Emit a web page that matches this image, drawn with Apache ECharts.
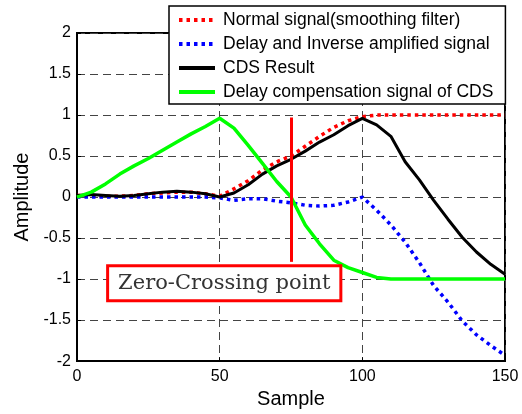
<!DOCTYPE html>
<html><head><meta charset="utf-8">
<script src="https://cdn.jsdelivr.net/npm/echarts@6/dist/echarts.min.js"></script>
<style>html,body{margin:0;padding:0;background:#fff}#c{width:522px;height:414px}</style>
</head><body><div id="c"></div>
<script>
// ---- data ----
const sample = [0,5,10,15,20,25,30,35,40,45,50,55,60,65,70,75,80,85,90,95,100,105,110,115,120,125,130,135,140,145,150];
const normalSignal = [0.02,0.02,0.01,0.01,0.02,0.04,0.05,0.06,0.06,0.04,0.01,0.10,0.20,0.33,0.43,0.50,0.62,0.74,0.85,0.93,0.98,1.0,1.0,1.0,1.0,1.0,1.0,1.0,1.0,1.0,1.0];
const delayInverse = [0,0,0,0,0,0,0,0,0,0,-0.01,-0.04,-0.02,-0.02,-0.05,-0.07,-0.10,-0.11,-0.10,-0.06,0,-0.16,-0.34,-0.55,-0.80,-1.08,-1.28,-1.51,-1.68,-1.81,-1.93];
const cdsResult = [0.02,0.03,0.02,0.01,0.02,0.04,0.06,0.07,0.06,0.04,0.0,0.05,0.15,0.28,0.38,0.46,0.56,0.67,0.76,0.87,0.96,0.88,0.74,0.43,0.21,-0.04,-0.27,-0.49,-0.67,-0.82,-0.94];
const delayComp = [0,0.06,0.16,0.28,0.38,0.47,0.57,0.67,0.77,0.86,0.96,0.84,0.63,0.41,0.19,0.0,-0.34,-0.57,-0.77,-0.86,-0.92,-0.98,-1,-1,-1,-1,-1,-1,-1,-1,-1];
const seriesNames = ['Normal signal(smoothing filter)','Delay and Inverse amplified signal','CDS Result','Delay compensation signal of CDS'];
const xTicks = [0,50,100,150];
const yTicks = [-2,-1.5,-1,-0.5,0,0.5,1,1.5,2];
const zeroCrossX = 75;
const zeroCrossLineY = [0.97, -0.79];
const zeroCrossLabel = 'Zero-Crossing point';
const zeroCrossLabelPos = [51.6, -1.05];

const pair = ys => sample.map((x, i) => [x, ys[i]]);
const FONT = 'Liberation Sans';

const chart = echarts.init(document.getElementById('c'), null, {renderer: 'canvas'});
const axisCommon = {
  axisLine: {show: true, onZero: false, lineStyle: {color: '#000', width: 2}},
  axisTick: {show: true, inside: true, length: 4, lineStyle: {color: '#000', width: 1}},
  splitLine: {show: true, lineStyle: {color: '#444', width: 1, type: [8, 5]}},
  nameTextStyle: {fontFamily: FONT, fontSize: 20, color: '#000'}
};
chart.setOption({
  animation: false,
  backgroundColor: '#fff',
  grid: {left: 77, right: 17, top: 33, bottom: 47, show: true, borderColor: '#000', borderWidth: 2, containLabel: false},
  legend: {
    left: 169, top: 6, orient: 'vertical',
    backgroundColor: '#fff', borderColor: '#000', borderWidth: 1.5,
    padding: [5, 12, 3, 8], itemGap: 6, itemWidth: 36, itemHeight: 14,
    itemStyle: {color: 'rgba(0,0,0,0)', borderWidth: 0, opacity: 0},
    lineStyle: {width: 4},
    textStyle: {fontFamily: FONT, fontSize: 17.5, color: '#000', padding: [0, 0, 0, 3]},
    data: seriesNames
  },
  xAxis: Object.assign({
    type: 'value', min: xTicks[0], max: xTicks[xTicks.length - 1], interval: xTicks[1] - xTicks[0],
    name: 'Sample', nameLocation: 'middle', nameGap: 25,
    axisLabel: {fontFamily: FONT, fontSize: 16, color: '#000', margin: 7}
  }, axisCommon),
  yAxis: Object.assign({
    type: 'value', min: yTicks[0], max: yTicks[yTicks.length - 1], interval: yTicks[1] - yTicks[0],
    name: 'Amplitude', nameLocation: 'middle', nameGap: 39,
    axisLabel: {fontFamily: FONT, fontSize: 16, color: '#000', margin: 6}
  }, axisCommon),
  series: [
    {name: seriesNames[0], type: 'line', symbol: 'none', data: pair(normalSignal),
     lineStyle: {color: '#ff0000', width: 3.5, type: [3.5, 4]}, itemStyle: {color: '#ff0000'}, z: 2},
    {name: seriesNames[1], type: 'line', symbol: 'none', data: pair(delayInverse),
     lineStyle: {color: '#0000ff', width: 3.5, type: [3.5, 4]}, itemStyle: {color: '#0000ff'}, z: 2},
    {name: seriesNames[2], type: 'line', symbol: 'none', data: pair(cdsResult),
     lineStyle: {color: '#000000', width: 3}, itemStyle: {color: '#000000'}, z: 3},
    {name: seriesNames[3], type: 'line', symbol: 'none', data: pair(delayComp),
     lineStyle: {color: '#00ff00', width: 3.5}, itemStyle: {color: '#00ff00'}, z: 4,
     markLine: {
       silent: true, symbol: 'none', animation: false,
       lineStyle: {color: '#ff0000', width: 3, type: 'solid'},
       label: {show: false},
       data: [[{coord: [zeroCrossX, zeroCrossLineY[0]]}, {coord: [zeroCrossX, zeroCrossLineY[1]]}]]
     },
     markPoint: {
       silent: true, symbol: 'rect', symbolSize: 0, animation: false,
       label: {
         show: true, position: 'inside', formatter: zeroCrossLabel,
         fontFamily: 'DejaVu Serif', fontSize: 21, color: '#333',
         backgroundColor: '#fff', borderColor: '#ff0000', borderWidth: 3,
         padding: [6, 9, 5, 9]
       },
       data: [{coord: zeroCrossLabelPos}]
     }
    }
  ]
});
</script></body></html>
